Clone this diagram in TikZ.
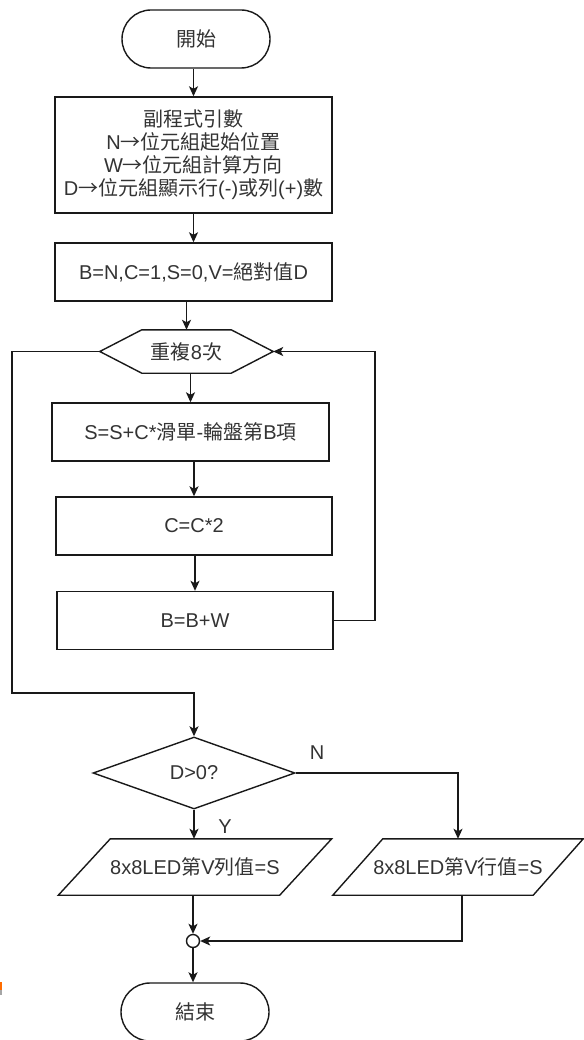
\documentclass[tikz,border=0pt]{standalone}
\usepackage{fontspec}
\setmainfont{Liberation Sans}
\newfontfamily\cjkfont{Noto Sans CJK TC}
\newcommand\zh[1]{{\cjkfont #1}}
\usetikzlibrary{arrows.meta,shapes.geometric}

\begin{document}
\begin{tikzpicture}[x=1pt,y=-1pt,
  every node/.style={font=\fontsize{20}{23}\selectfont, text=black!80},
  line/.style={draw=black!90, line width=1.4pt},
  arr/.style={line, -{Stealth[length=10pt,width=9pt,inset=2.5pt]}},
  proc/.style={draw=black!90, line width=1.4pt, rectangle, minimum width=277pt,
    minimum height=58pt, align=center, inner sep=0pt},
  term/.style={draw=black!90, line width=1.4pt, rectangle, rounded corners=29pt,
    minimum width=148pt, minimum height=58pt, inner sep=0pt},
  plain/.style={inner sep=0pt},
  decision/.style={draw=black!90, line width=1.4pt, diamond, minimum width=202pt,
    minimum height=72pt, inner sep=0pt},
  junction/.style={draw=black!90, line width=1.4pt, circle, minimum size=13pt,
    inner sep=0pt, fill=white},
  lbl/.style={inner sep=0pt}
]
\useasboundingbox (0,0) rectangle (583,1040);

% nodes
\node[term] (start) at (196,39) {\zh{開始}};
\node[proc, minimum height=116pt] (args) at (193.5,155)
  {\zh{副程式引數}\\N\zh{→位元組起始位置}\\W\zh{→位元組計算方向}\\D\zh{→位元組顯示行}(-)\zh{或列}(+)\zh{數}};
\node[proc] (init) at (193.5,272) {B=N,C=1,S=0,V=\zh{絕對值}D};

\node[plain, minimum width=173pt, minimum height=43pt] (loop) at (186.5,351.5) {\zh{重複}8\zh{次}};
\draw[line] (loop.west) -- ([xshift=42pt]loop.north west) -- ([xshift=-42pt]loop.north east)
  -- (loop.east) -- ([xshift=-42pt]loop.south east) -- ([xshift=42pt]loop.south west) -- cycle;

\node[proc] (sum) at (190.5,432) {S=S+C*\zh{滑單}-\zh{輪盤第}B\zh{項}};
\node[proc, minimum width=276pt] (dbl) at (194,526) {C=C*2};
\node[proc, minimum width=276pt] (step) at (195,620.5) {B=B+W};

\node[decision] (dia) at (194,773) {D>0?};

\node[plain, minimum width=221pt, minimum height=56pt] (lp) at (195,867) {8x8LED\zh{第}V\zh{列值}=S};
\draw[line] ([xshift=26pt]lp.north west) -- ([xshift=26pt]lp.north east)
  -- ([xshift=-26pt]lp.south east) -- ([xshift=-26pt]lp.south west) -- cycle;
\node[plain, minimum width=200pt, minimum height=56pt] (rp) at (458,867) {8x8LED\zh{第}V\zh{行值}=S};
\draw[line] ([xshift=25pt]rp.north west) -- ([xshift=25pt]rp.north east)
  -- ([xshift=-25pt]rp.south east) -- ([xshift=-25pt]rp.south west) -- cycle;

\node[junction] (join) at (193,941) {};
\node[term] (end) at (195,1012) {\zh{結束}};

\node[lbl] (nlab) at (317,753) {N};
\node[lbl] (ylab) at (225,827) {Y};

% connectors
\coordinate (rc) at (375,351.5);
\coordinate (lc) at (12,693);
\draw[arr] (args.north |- start.south) -- (args.north);
\draw[arr] (init.north |- args.south) -- (init.north);
\draw[arr] (loop.north |- init.south) -- (loop.north);
\draw[arr] (sum.north |- loop.south) -- (sum.north);
\draw[arr] (dbl.north |- sum.south) -- (dbl.north);
\draw[arr] (step.north |- dbl.south) -- (step.north);
\draw[arr] (step.east) -| (rc) -- (loop.east);
\draw[arr] (loop.west) -| (lc) -| (dia.north);
\draw[arr] (dia.south) -- (dia.south |- lp.north);
\draw[arr] (dia.east) -| (rp.north);
\draw[arr] (join.north |- lp.south) -- (join.north);
\draw[arr] ([xshift=4pt]rp.south) |- (join.east);
\draw[arr] (join.south) -- (join.south |- end.north);

% small mark on the left edge
\fill[orange!85!red] (0,982) rectangle (2,990);
\fill[black!35] (0,990) rectangle (1.5,995);
\end{tikzpicture}
\end{document}
